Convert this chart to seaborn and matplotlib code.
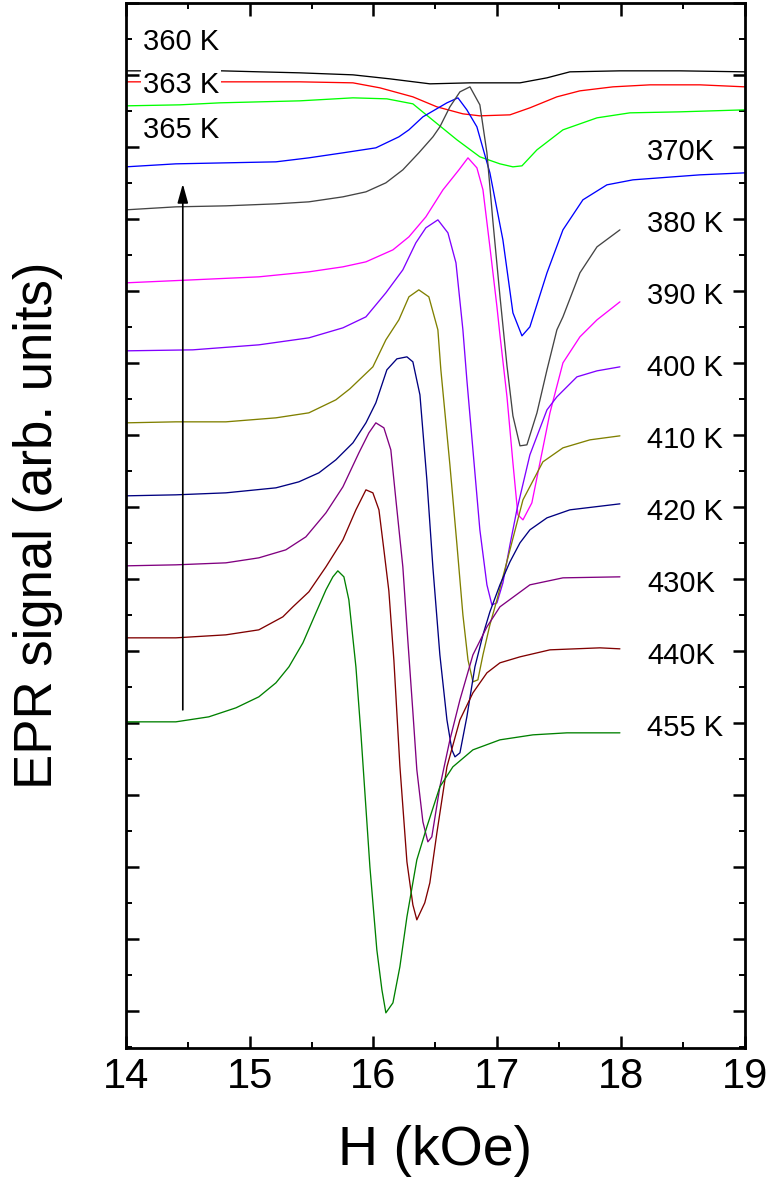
import matplotlib
matplotlib.use('Agg')
import matplotlib.pyplot as plt
from matplotlib.ticker import MultipleLocator, NullFormatter
import pandas as pd
import seaborn as sns

# ---------------- data (H in kOe, signal in arb. units) ----------------
h360 = [14.0, 14.775, 15.082, 15.405, 15.834, 16.132, 16.456, 16.779, 17.183, 17.401, 17.586, 17.990, 18.475, 19.0]
s360 = [940, 940, 939, 938, 936, 932, 927, 928, 928, 933, 939, 940, 940, 939]

h363 = [14.0, 14.775, 15.405, 15.834, 16.052, 16.318, 16.512, 16.722, 16.859, 17.102, 17.263, 17.481, 17.667, 17.934, 18.233, 18.637, 19.0]
s363 = [929, 929, 929, 928, 923, 914, 904, 897, 895, 896, 903, 914, 920, 924, 926, 926, 924]

h365 = [14.0, 14.436, 14.759, 15.405, 15.834, 16.108, 16.318, 16.456, 16.674, 16.859, 17.021, 17.126, 17.199, 17.320, 17.530, 17.805, 18.071, 18.475, 19.0]
s365 = [905, 906, 908, 910, 913, 912, 907, 893, 871, 854, 847, 844, 845, 861, 881, 893, 898, 899, 901]

h370 = [14.0, 14.404, 14.808, 15.212, 15.478, 15.753, 16.019, 16.205, 16.286, 16.399, 16.593, 16.682, 16.754, 16.835, 16.940, 17.045, 17.126, 17.199, 17.263, 17.401, 17.530, 17.691, 17.885, 18.095, 18.637, 19.0]
s370 = [844, 847, 848, 849, 853, 858, 863, 874, 881, 894, 908, 913, 901, 884, 838, 771, 698, 675, 684, 738, 781, 811, 826, 831, 836, 838]

h380 = [14.0, 14.404, 14.808, 15.212, 15.478, 15.753, 15.939, 16.100, 16.237, 16.366, 16.480, 16.536, 16.617, 16.698, 16.779, 16.859, 16.916, 16.964, 17.021, 17.078, 17.126, 17.183, 17.239, 17.320, 17.401, 17.481, 17.530, 17.667, 17.805, 17.990]
s380 = [801, 804, 805, 807, 809, 814, 819, 828, 841, 858, 874, 884, 904, 919, 924, 906, 858, 790, 715, 645, 595, 565, 566, 598, 641, 681, 694, 738, 764, 781]

h390 = [14.0, 14.541, 15.074, 15.478, 15.753, 15.939, 16.157, 16.286, 16.423, 16.561, 16.690, 16.763, 16.835, 16.884, 16.940, 16.997, 17.021, 17.078, 17.126, 17.166, 17.207, 17.279, 17.344, 17.425, 17.530, 17.667, 17.805, 17.990]
s390 = [728, 731, 734, 739, 744, 749, 761, 774, 794, 821, 841, 853, 843, 821, 764, 704, 676, 614, 548, 496, 491, 508, 548, 598, 648, 674, 691, 709]

h400 = [14.0, 14.541, 15.074, 15.478, 15.753, 15.939, 16.100, 16.237, 16.342, 16.423, 16.520, 16.601, 16.666, 16.722, 16.754, 16.803, 16.859, 16.916, 16.956, 16.997, 17.045, 17.102, 17.158, 17.263, 17.401, 17.481, 17.643, 17.805, 17.990]
s400 = [660, 661, 666, 673, 683, 694, 718, 741, 768, 783, 791, 778, 748, 681, 631, 561, 481, 426, 406, 408, 428, 466, 501, 556, 601, 614, 634, 640, 644]

h410 = [14.0, 14.404, 14.808, 15.212, 15.478, 15.696, 15.809, 15.995, 16.100, 16.205, 16.286, 16.366, 16.447, 16.520, 16.544, 16.617, 16.674, 16.722, 16.763, 16.803, 16.843, 16.884, 16.940, 16.997, 17.102, 17.207, 17.368, 17.530, 17.748, 17.990]
s410 = [588, 589, 589, 593, 598, 611, 622, 644, 671, 691, 714, 721, 714, 681, 641, 546, 466, 396, 351, 329, 331, 356, 386, 411, 461, 511, 549, 563, 571, 575]

h420 = [14.0, 14.404, 14.808, 15.212, 15.397, 15.559, 15.696, 15.834, 15.939, 16.019, 16.108, 16.189, 16.270, 16.318, 16.375, 16.431, 16.480, 16.536, 16.593, 16.633, 16.658, 16.698, 16.754, 16.819, 16.884, 16.940, 17.021, 17.102, 17.183, 17.263, 17.401, 17.586, 17.990]
s420 = [515, 516, 518, 523, 529, 538, 551, 568, 588, 608, 641, 652, 654, 649, 616, 531, 443, 356, 291, 261, 254, 258, 294, 344, 376, 399, 426, 449, 468, 481, 493, 501, 507]

h430 = [14.0, 14.404, 14.808, 15.074, 15.292, 15.454, 15.616, 15.753, 15.882, 15.963, 16.019, 16.084, 16.140, 16.181, 16.237, 16.277, 16.318, 16.350, 16.399, 16.439, 16.471, 16.536, 16.617, 16.698, 16.803, 16.916, 17.021, 17.263, 17.530, 17.990]
s430 = [445, 446, 448, 453, 461, 474, 498, 524, 558, 578, 588, 583, 561, 511, 444, 371, 299, 241, 189, 169, 174, 224, 271, 311, 356, 384, 404, 426, 433, 434]

h440 = [14.0, 14.404, 14.808, 15.074, 15.268, 15.349, 15.478, 15.616, 15.753, 15.858, 15.939, 15.995, 16.044, 16.084, 16.124, 16.165, 16.213, 16.270, 16.318, 16.350, 16.414, 16.455, 16.512, 16.593, 16.698, 16.803, 16.916, 17.021, 17.183, 17.425, 17.829, 17.990]
s440 = [373, 373, 376, 381, 394, 404, 419, 444, 471, 501, 521, 518, 501, 461, 420, 350, 245, 149, 106, 91, 108, 128, 178, 244, 291, 318, 338, 348, 354, 361, 363, 362]

h455 = [14.0, 14.404, 14.670, 14.889, 15.074, 15.212, 15.317, 15.430, 15.535, 15.616, 15.672, 15.712, 15.761, 15.801, 15.858, 15.898, 15.971, 16.027, 16.068, 16.100, 16.157, 16.213, 16.270, 16.350, 16.431, 16.536, 16.641, 16.803, 17.021, 17.288, 17.562, 17.990]
s455 = [289, 289, 294, 303, 314, 328, 344, 368, 398, 421, 434, 440, 434, 411, 344, 278, 144, 61, 21, -2, 8, 44, 94, 151, 184, 224, 244, 261, 271, 276, 278, 278]

temps = ['360 K', '363 K', '365 K', '370K', '380 K', '390 K', '400 K', '410 K', '420 K', '430K', '440K', '455 K']
h_all = [h360, h363, h365, h370, h380, h390, h400, h410, h420, h430, h440, h455]
s_all = [s360, s363, s365, s370, s380, s390, s400, s410, s420, s430, s440, s455]
colors = ['#000000', '#ff0000', '#00ff00', '#0000ff', '#444444', '#ff00ff',
          '#8000ff', '#808000', '#000080', '#800080', '#800000', '#008000']

left_labels = temps[:3]
right_labels = temps[3:]

# ---------------- build long-form table ----------------
rows = []
for t, hs, ss in zip(temps, h_all, s_all):
    for h, s in zip(hs, ss):
        rows.append((t, h, s))
df = pd.DataFrame(rows, columns=['T', 'H', 'S'])

# ---------------- figure ----------------
sns.set_style('ticks')
plt.rcParams['font.family'] = ['Liberation Sans', 'DejaVu Sans']
plt.rcParams['text.color'] = 'black'
plt.rcParams['axes.labelcolor'] = 'black'
plt.rcParams['xtick.color'] = 'black'
plt.rcParams['ytick.color'] = 'black'

fig = plt.figure(figsize=(7.72, 11.84), dpi=100)
ax = fig.add_axes([0.163, 0.115, 0.802, 0.8826])

sns.lineplot(data=df, x='H', y='S', hue='T', hue_order=temps,
             palette=dict(zip(temps, colors)), estimator=None, sort=False,
             legend=False, linewidth=0.95, ax=ax)

ax.set_xlim(14, 19)
ax.set_ylim(-37, 1008)

ax.xaxis.set_major_locator(MultipleLocator(1))
ax.xaxis.set_minor_locator(MultipleLocator(0.5))
ax.yaxis.set_major_locator(MultipleLocator(72))
ax.yaxis.set_minor_locator(MultipleLocator(36))
ax.yaxis.set_major_formatter(NullFormatter())

ax.tick_params(which='major', direction='in', length=9, width=1.8,
               top=True, right=True, labelsize=30, pad=6.5,
               color='black', labelcolor='black')
ax.tick_params(which='minor', direction='in', length=4.5, width=1.4,
               top=True, right=True, color='black')
for sp in ax.spines.values():
    sp.set_linewidth(2.0)
    sp.set_color('black')

ax.set_xlabel('H (kOe)', fontsize=40, labelpad=20, color='black')
ax.set_ylabel('EPR signal (arb. units)', fontsize=38, labelpad=39, color='black')

# temperature labels
left_y = [969, 926, 881]
for lab, y in zip(left_labels, left_y):
    ax.text(14.137, y, lab, fontsize=21, ha='left', va='center', color='black',
            bbox=dict(facecolor='white', edgecolor='none', pad=1.0), zorder=5)
for i, lab in enumerate(right_labels):
    ax.text(18.208, 864 - 72 * i - 5, lab, fontsize=21, ha='left', va='center',
            color='black')

# arrow
ax.annotate('', xy=(14.46, 827), xytext=(14.46, 301),
            arrowprops=dict(arrowstyle='-|>,head_length=1.15,head_width=0.32',
                            mutation_scale=10, color='black', lw=1.2,
                            shrinkA=0, shrinkB=0))

fig.savefig('out.png', dpi=100)
